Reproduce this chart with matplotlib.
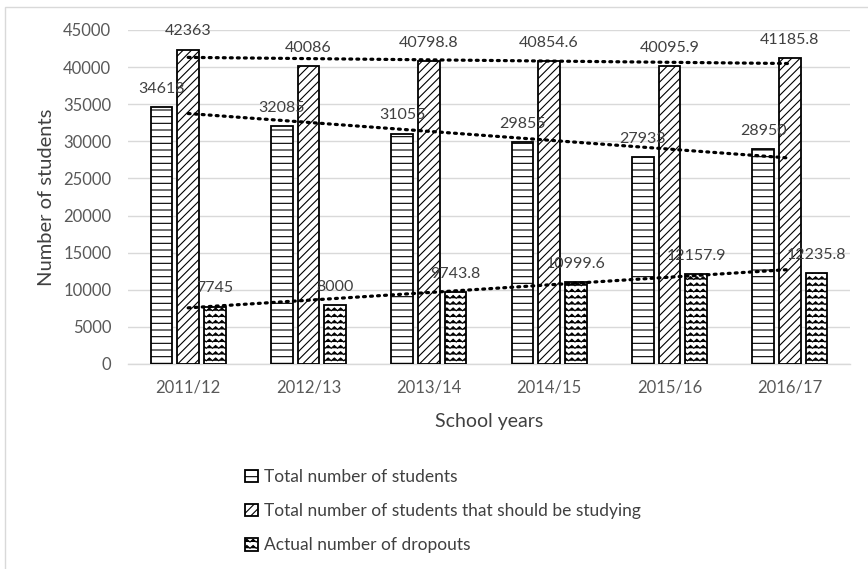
import warnings
import numpy as np
import matplotlib
matplotlib.use("Agg")
import matplotlib.pyplot as plt
import matplotlib.hatch as mhatch
from matplotlib.path import Path
from matplotlib.patches import Patch, Rectangle

warnings.filterwarnings("ignore")

# data
years = ["2011/12", "2012/13", "2013/14", "2014/15", "2015/16", "2016/17"]
total_students = [34618, 32085, 31055, 29855, 27933, 28950]
should_study = [42363, 40086, 40798.8, 40854.6, 40095.9, 41185.8]
dropouts = [7745, 8000, 9743.8, 10999.6, 12157.9, 12235.8]
series_names = ["Total number of students",
                "Total number of students that should be studying",
                "Actual number of dropouts"]


class ZigzagHatch(mhatch.HatchPatternBase):
    """wavy rows, used for hatch char 'z'"""
    rows = 16
    periods = 16
    amp = 0.014

    def __init__(self, hatch, density):
        n = hatch.count('z')
        self.num_rows = self.rows if n else 0
        self.num_vertices = self.num_rows * (2 * self.periods + 1)

    def set_vertices_and_codes(self, vertices, codes):
        npts = 2 * self.periods + 1
        xs = np.linspace(0.0, 1.0, npts)
        offs = np.where(np.arange(npts) % 2 == 0, -self.amp, self.amp)
        ys = (np.arange(self.num_rows) + 0.5) / self.num_rows
        for i, y in enumerate(ys):
            vertices[i * npts:(i + 1) * npts, 0] = xs
            vertices[i * npts:(i + 1) * npts, 1] = y + offs
            codes[i * npts] = Path.MOVETO
            codes[i * npts + 1:(i + 1) * npts] = Path.LINETO


class DenseHorizontalHatch(mhatch.HatchPatternBase):
    """horizontal lines, 15 per inch, hatch char 'h'"""
    def __init__(self, hatch, density):
        self.num_lines = 15 if 'h' in hatch else 0
        self.num_vertices = self.num_lines * 2

    def set_vertices_and_codes(self, vertices, codes):
        steps = (np.arange(self.num_lines) + 0.5) / self.num_lines
        vertices[0::2, 0] = 0.0
        vertices[0::2, 1] = steps
        vertices[1::2, 0] = 1.0
        vertices[1::2, 1] = steps
        codes[0::2] = Path.MOVETO
        codes[1::2] = Path.LINETO


mhatch._hatch_types.append(ZigzagHatch)
mhatch._hatch_types.append(DenseHorizontalHatch)

plt.rcParams['font.family'] = ['Lato', 'DejaVu Sans']
plt.rcParams['hatch.linewidth'] = 0.8
plt.rcParams['hatch.color'] = 'black'

fig = plt.figure(figsize=(8.68, 5.69), dpi=100)
ax = fig.add_axes([128 / 868, 1 - 364 / 569, 722 / 868, 334 / 569])

# light frame of the chart area (only top and left edges visible)
fig.patches.append(Rectangle((5 / 868, -1), 2, 1 + (1 - 7 / 569),
                             transform=fig.transFigure, fill=False,
                             edgecolor='#d9d9d9', linewidth=1.0))

x = np.arange(len(years))
step = 0.222
width = 0.18
all_series = [total_students, should_study, dropouts]
hatches = ['h', '////', 'z']
label_color = '#404040'

for k, (vals, hatch) in enumerate(zip(all_series, hatches)):
    pos = x + (k - 1) * step
    bars = ax.bar(pos, vals, width, color='white', edgecolor='black',
                  linewidth=1.3, hatch=hatch, zorder=3)
    for b, v in zip(bars, vals):
        txt = f"{v:g}"
        ax.annotate(txt, (b.get_x() + b.get_width() / 2, v),
                    xytext=(0, 8), textcoords='offset points',
                    ha='center', va='bottom', fontsize=11.5,
                    color=label_color, zorder=5)
    # linear trendline over the category centres
    coef = np.polyfit(x, vals, 1)
    ax.plot(x, np.polyval(coef, x), color='black', linestyle=(0, (0.6, 1.6)),
            linewidth=2.3, dash_capstyle='round', zorder=6)

ax.set_xlim(-0.5, len(years) - 0.5)
ax.set_ylim(0, 45000)
ax.set_yticks(np.arange(0, 45001, 5000))
ax.set_xticks(x)
ax.set_xticklabels(years)
ax.tick_params(axis='both', length=0, labelsize=12, labelcolor='#595959')
ax.tick_params(axis='y', pad=12)
ax.tick_params(axis='x', pad=11)
ax.grid(axis='y', color='#d9d9d9', linewidth=1.0, zorder=0)
for s in ['top', 'right', 'left']:
    ax.spines[s].set_visible(False)
ax.spines['bottom'].set_color('#d9d9d9')
ax.spines['bottom'].set_linewidth(1.0)

ax.set_xlabel("School years", fontsize=14, color='#404040', labelpad=13)
ax.set_ylabel("Number of students", fontsize=14.5, color='#404040', labelpad=6)

handles = [Patch(facecolor='white', edgecolor='black', linewidth=1.3,
                 hatch=h) for h in hatches]
fig.legend(handles, series_names, loc='upper left',
           bbox_to_anchor=(238 / 868, 1 - 462 / 569), frameon=False,
           fontsize=12.5, labelcolor='#404040', handlelength=0.75,
           handleheight=0.75, handletextpad=0.35, labelspacing=1.05,
           borderaxespad=0)

fig.savefig("out.png", dpi=100)
